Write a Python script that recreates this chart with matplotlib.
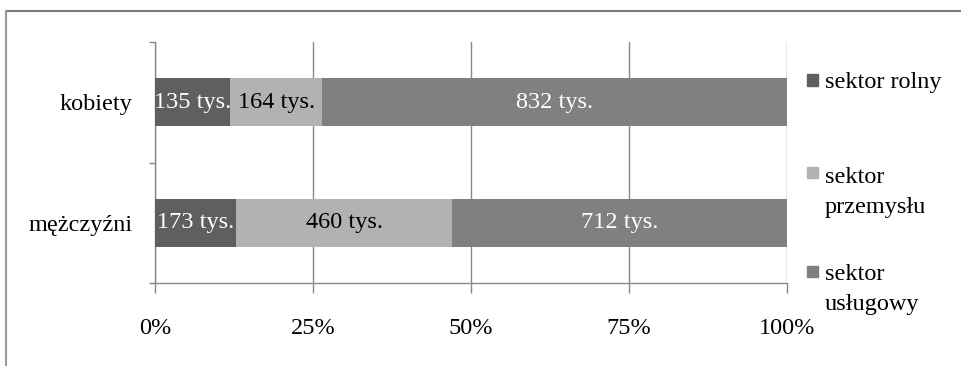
import matplotlib.pyplot as plt
import numpy as np
from matplotlib.patches import Rectangle
from matplotlib.lines import Line2D

plt.rcParams['font.family'] = ['Liberation Serif', 'DejaVu Serif']

# Employment by sector, thousands of people
groups = ["kobiety", "mężczyźni"]
sectors = ["sektor rolny", "sektor\nprzemysłu", "sektor\nusługowy"]
rolny = [135, 173]
przemysl = [164, 460]
uslugi = [832, 712]
colors = ["#5f5f5f", "#b2b2b2", "#808080"]
text_colors = ["white", "black", "white"]
xticks = [0, 25, 50, 75, 100]
xtick_labels = ["0%", "25%", "50%", "75%", "100%"]

values = np.array([rolny, przemysl, uslugi], dtype=float)
shares = values / values.sum(axis=0) * 100

W, H = 962, 366
fs = 17.5
fig = plt.figure(figsize=(W / 100, H / 100), dpi=100)
ax = fig.add_axes([155 / W, 83 / H, 632 / W, 241 / H])

y = np.arange(len(groups))
left = np.zeros(len(groups))
for i in range(len(sectors)):
    ax.barh(y, shares[i], left=left, height=0.4, color=colors[i], zorder=3)
    for j in range(len(groups)):
        ax.text(left[j] + shares[i][j] / 2, y[j], f"{int(values[i][j])} tys.",
                ha="center", va="center", color=text_colors[i], fontsize=fs,
                zorder=4)
    left += shares[i]

ax.set_xlim(0, 100)
ax.set_ylim(1.5, -0.5)
ax.set_xticks(xticks)
ax.set_xticklabels(xtick_labels, fontsize=fs)
ax.set_yticks([-0.5, 0.5, 1.5])
ax.set_yticklabels([])
ax.set_yticks(y, minor=True)
ax.set_yticklabels(groups, minor=True, fontsize=fs)
ax.tick_params(axis="y", which="minor", length=0, pad=16)
ax.tick_params(axis="y", which="major", length=4, color="#888888", width=1)
ax.tick_params(axis="x", length=7, color="#888888", width=1, pad=18)
ax.xaxis.grid(True, color="#888888", linewidth=1, zorder=0)
for s in ["top", "right"]:
    ax.spines[s].set_visible(False)
for s in ["left", "bottom"]:
    ax.spines[s].set_color("#888888")
    ax.spines[s].set_linewidth(1)

# legend drawn by hand: square marker beside the first line of each label
marker_y = [80, 172, 271]
baseline_y = [88, 183, 280]
line_gap = 30
for i, lab in enumerate(sectors):
    ym = 1 - marker_y[i] / H
    fig.add_artist(Rectangle((807 / W, ym - 5.5 / H), 11 / W, 11 / H,
                             transform=fig.transFigure, color=colors[i]))
    for k, line in enumerate(lab.split("\n")):
        yb = 1 - (baseline_y[i] + k * line_gap) / H
        fig.text(825 / W, yb, line, ha="left", va="baseline", fontsize=fs)

# outer frame
fig.add_artist(Line2D([6 / W, 1], [1 - 11 / H, 1 - 11 / H],
                      transform=fig.transFigure, color="#7a7a7a", linewidth=1.5))
fig.add_artist(Line2D([6 / W, 6 / W], [0, 1 - 11 / H],
                      transform=fig.transFigure, color="#9a9a9a", linewidth=1.5))

fig.savefig("out.png", dpi=100)
